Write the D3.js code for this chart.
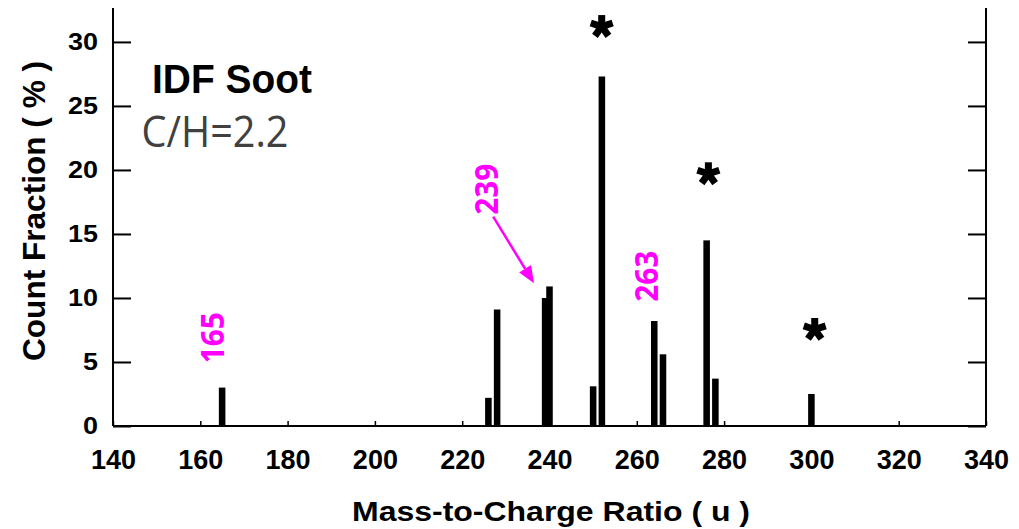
<!DOCTYPE html>
<html>
<head>
<meta charset="utf-8">
<script src="https://cdn.jsdelivr.net/npm/d3@7"></script>
<style>
  html, body { margin: 0; padding: 0; background: #fff; }
  svg { display: block; }
  .axis text { font-family: "Liberation Sans", Arial, sans-serif; font-weight: bold; fill: #000; }
</style>
</head>
<body>
<svg id="chart" width="1019" height="529"></svg>
<script>
// Peak masses (u) and their count fractions (%)
const masses    = [165, 226, 228, 239, 240, 250, 252, 264, 266, 276, 278, 300];
const fractions = [3.0, 2.2, 9.1, 10.0, 10.9, 3.1, 27.3, 8.2, 5.6, 14.5, 3.7, 2.5];

// Axis ticks
const xTicks = [140, 160, 180, 200, 220, 240, 260, 280, 300, 320, 340];
const yTicks = [0, 5, 10, 15, 20, 25, 30];

// Annotated masses (magenta), placed in data units [mass, fraction]
const noteTexts  = ["165", "239", "263"];
const noteAnchor = [[165.5, 4.9], [228.2, 16.5], [264.9, 9.7]];
// Arrow from the "239" label to its peak pair
const arrowFrom = [227.1, 16.35];
const arrowTo   = [236.45, 11.15];

// Asterisks over the marked peaks, in data units
const starAt = [[251.96, 31.2], [276.4, 19.7], [300.76, 7.54]];

(function draw() {
const svg = d3.select("#chart");
const plotL = 113, plotR = 986, plotB = 426, plotT = 8;

const x = d3.scaleLinear().domain([140, 340]).range([plotL, plotR]);
const y = d3.scaleLinear().domain([0, 32.65]).range([plotB, plotT]);

// Bars
const halfW = 0.75;
svg.append("g").selectAll("rect")
  .data(masses.map((m, i) => ({ m, v: fractions[i] })))
  .join("rect")
  .attr("x", d => x(d.m - halfW))
  .attr("width", d => x(d.m + halfW) - x(d.m - halfW))
  .attr("y", d => y(d.v))
  .attr("height", d => y(0) - y(d.v))
  .attr("fill", "#000");

// Left axis with inward ticks
const gL = svg.append("g").attr("class", "axis").attr("transform", `translate(${plotL},0)`)
  .call(d3.axisLeft(y).tickValues(yTicks).tickSize(-18).tickSizeOuter(0).tickPadding(15));
gL.select(".domain").remove();
gL.selectAll(".tick line").attr("stroke", "#000").attr("stroke-width", 2);
gL.selectAll(".tick text")
  .attr("font-size", 24)
  .attr("textLength", d => String(d).length * 15)
  .attr("lengthAdjust", "spacingAndGlyphs");

// Right axis: ticks only
const gR = svg.append("g").attr("class", "axis").attr("transform", `translate(${plotR},0)`)
  .call(d3.axisRight(y).tickValues(yTicks).tickSize(-18).tickSizeOuter(0).tickFormat(""));
gR.select(".domain").remove();
gR.selectAll(".tick line").attr("stroke", "#000").attr("stroke-width", 2);

// Bottom axis with small inward ticks
const gB = svg.append("g").attr("class", "axis").attr("transform", `translate(0,${plotB})`)
  .call(d3.axisBottom(x).tickValues(xTicks).tickSize(-5).tickSizeOuter(0).tickPadding(24));
gB.select(".domain").remove();
gB.selectAll(".tick line").attr("stroke", "#000").attr("stroke-width", 1.5);
gB.selectAll(".tick text").attr("font-size", 27);

// Frame lines (left, right, bottom)
const frame = svg.append("g").attr("stroke", "#000").attr("fill", "none");
frame.append("line").attr("x1", plotL).attr("x2", plotL).attr("y1", plotT).attr("y2", plotB).attr("stroke-width", 2);
frame.append("line").attr("x1", plotR).attr("x2", plotR).attr("y1", plotT).attr("y2", plotB).attr("stroke-width", 2);
frame.append("line").attr("x1", plotL).attr("x2", plotR).attr("y1", plotB).attr("y2", plotB).attr("stroke-width", 2);

// Axis titles
svg.append("text")
  .attr("x", 551).attr("y", 521)
  .attr("text-anchor", "middle")
  .attr("font-family", "Liberation Sans, Arial, sans-serif")
  .attr("font-weight", "bold").attr("font-size", 28)
  .attr("textLength", 398).attr("lengthAdjust", "spacingAndGlyphs")
  .text("Mass-to-Charge Ratio ( u )");

svg.append("text")
  .attr("transform", "translate(45,211) rotate(-90)")
  .attr("text-anchor", "middle")
  .attr("font-family", "Liberation Sans, Arial, sans-serif")
  .attr("font-weight", "bold").attr("font-size", 32)
  .attr("textLength", 300).attr("lengthAdjust", "spacingAndGlyphs")
  .text("Count Fraction ( % )");

// Sample title
svg.append("text")
  .attr("x", 152).attr("y", 92.5)
  .attr("font-family", "Liberation Sans, Arial, sans-serif")
  .attr("font-weight", "bold").attr("font-size", 40)
  .attr("textLength", 160).attr("lengthAdjust", "spacingAndGlyphs")
  .text("IDF Soot");

svg.append("text")
  .attr("x", 141.5).attr("y", 146.5)
  .attr("font-family", "Open Sans, Noto Sans, sans-serif")
  .attr("font-size", 44).attr("fill", "#404040")
  .attr("textLength", 147).attr("lengthAdjust", "spacingAndGlyphs")
  .text("C/H=2.2");

// Magenta mass labels (rotated)
const magenta = "#ff00ff";
svg.append("g").selectAll("text")
  .data(noteTexts.map((t, i) => ({ t, p: noteAnchor[i] })))
  .join("text")
  .attr("transform", d => `translate(${x(d.p[0])},${y(d.p[1])}) rotate(-90)`)
  .attr("font-family", "Open Sans, Noto Sans, sans-serif")
  .attr("font-weight", "bold").attr("font-size", 32)
  .attr("fill", magenta)
  .attr("textLength", 51).attr("lengthAdjust", "spacingAndGlyphs")
  .text(d => d.t);

// Arrow pointing to the 239 peak
{
  const x0 = x(arrowFrom[0]), y0 = y(arrowFrom[1]);
  const x1 = x(arrowTo[0]),   y1 = y(arrowTo[1]);
  const ang = Math.atan2(y1 - y0, x1 - x0);
  const headLen = 17, headHalf = 7;
  const bx = x1 - headLen * Math.cos(ang), by = y1 - headLen * Math.sin(ang);
  svg.append("line")
    .attr("x1", x0).attr("y1", y0).attr("x2", bx).attr("y2", by)
    .attr("stroke", magenta).attr("stroke-width", 2.5);
  const px = -Math.sin(ang), py = Math.cos(ang);
  svg.append("path")
    .attr("d", `M${x1},${y1}L${bx + px * headHalf},${by + py * headHalf}L${bx - px * headHalf},${by - py * headHalf}Z`)
    .attr("fill", magenta);
}

// Five-armed asterisks above the marked peaks
const armLen = 11.5;
const arms = d3.range(5).map(k => (-90 + k * 72) * Math.PI / 180);
svg.append("g").selectAll("g")
  .data(starAt)
  .join("g")
  .attr("transform", d => `translate(${x(d[0])},${y(d[1])})`)
  .each(function () {
    d3.select(this).selectAll("line")
      .data(arms)
      .join("line")
      .attr("x1", 0).attr("y1", 0)
      .attr("x2", a => armLen * Math.cos(a))
      .attr("y2", a => armLen * Math.sin(a))
      .attr("stroke", "#000").attr("stroke-width", 7);
  });
})();
</script>
</body>
</html>
